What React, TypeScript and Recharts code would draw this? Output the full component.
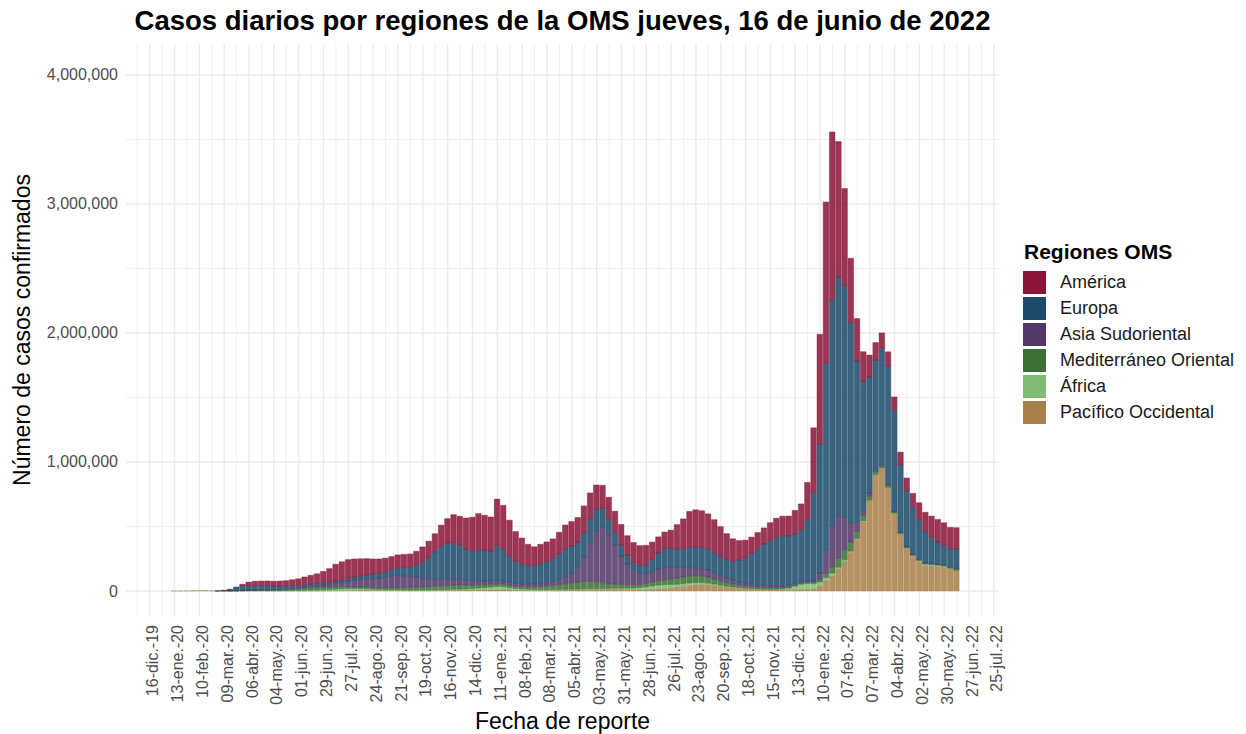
import { BarChart, Bar, XAxis, YAxis, CartesianGrid } from 'recharts';

// eje x en días desde el 16-dic-19; cada barra es una semana (vie-jue) desde el 03-ene-20
const ticksEje = [
  '16-dic.-19', '13-ene.-20', '10-feb.-20', '09-mar.-20', '06-abr.-20', '04-may.-20', '01-jun.-20',
  '29-jun.-20', '27-jul.-20', '24-ago.-20', '21-sep.-20', '19-oct.-20', '16-nov.-20', '14-dic.-20',
  '11-ene.-21', '08-feb.-21', '08-mar.-21', '05-abr.-21', '03-may.-21', '31-may.-21', '28-jun.-21',
  '26-jul.-21', '23-ago.-21', '20-sep.-21', '18-oct.-21', '15-nov.-21', '13-dic.-21', '10-ene.-22',
  '07-feb.-22', '07-mar.-22', '04-abr.-22', '02-may.-22', '30-may.-22', '27-jun.-22', '25-jul.-22',
];

const pacifico = [
  0, 50, 100, 500, 2000, 3200, 4500, 1200, 500, 400,
  300, 500, 1000, 1500, 2000, 2200, 1500, 1000, 800, 800,
  900, 1000, 1000, 1000, 1200, 1500, 1800, 2500, 3500, 4500,
  5500, 7000, 7000, 6000, 5500, 5000, 5000, 4500, 4000, 3500,
  3500, 3500, 3500, 4000, 5000, 6000, 7000, 7000, 7500, 8000,
  9000, 9000, 10000, 11000, 11000, 9000, 7000, 6000, 5000, 5000,
  5000, 5500, 6000, 6500, 7000, 7500, 9000, 10000, 11000, 12000,
  14000, 15000, 16000, 15000, 13000, 11000, 10000, 11000, 13000, 16000,
  20000, 25000, 30000, 37000, 43000, 48000, 50000, 48000, 42000, 36000,
  30000, 25000, 20000, 16000, 14000, 12000, 11000, 10000, 10000, 11000,
  11000, 12000, 12000, 13000, 18000, 40000, 80000, 120000, 170000, 230000,
  300000, 400000, 540000, 700000, 900000, 950000, 800000, 600000, 440000, 330000,
  270000, 230000, 200000, 195000, 190000, 185000, 170000, 155000,
];
const africa = [
  0, 0, 0, 0, 0, 0, 0, 0, 0, 10,
  100, 300, 600, 900, 1000, 1200, 1500, 2000, 2500, 3000,
  3500, 4000, 5000, 6000, 7000, 8500, 10000, 12000, 14000, 15000,
  14000, 12000, 10000, 8000, 7000, 6000, 5000, 4500, 4000, 4000,
  4500, 4500, 5000, 5000, 5500, 6000, 7000, 7500, 8500, 11000,
  14000, 17000, 20000, 24000, 22000, 17000, 13000, 10000, 8000, 7000,
  6500, 6000, 6000, 6000, 6000, 6000, 6000, 6500, 6500, 6000,
  5500, 5500, 6000, 7000, 9000, 12000, 16000, 21000, 26000, 30000,
  29000, 25000, 22000, 20000, 19000, 17000, 15000, 13000, 11000, 9000,
  7000, 6000, 5000, 4500, 4000, 3500, 3000, 3000, 3500, 5000,
  12000, 25000, 40000, 45000, 38000, 30000, 24000, 18000, 14000, 12000,
  9000, 7000, 5000, 4000, 4000, 3500, 3500, 3500, 4000, 4500,
  5500, 7000, 9000, 10000, 10000, 8000, 6000, 5000,
];
const mediterraneo = [
  0, 0, 0, 0, 0, 0, 0, 0, 100, 1200,
  1500, 2000, 3000, 3500, 4000, 4500, 5000, 6000, 7500, 9000,
  11000, 13000, 16000, 19000, 20000, 20000, 19000, 18000, 17000, 15000,
  13000, 12000, 12000, 12500, 13000, 14000, 15000, 16000, 18000, 20000,
  22000, 24000, 26000, 28000, 30000, 31000, 32000, 31000, 30000, 27000,
  25000, 23000, 22000, 21000, 20000, 19000, 18000, 18000, 19000, 21000,
  24000, 28000, 32000, 38000, 44000, 50000, 55000, 58000, 58000, 54000,
  45000, 36000, 32000, 29000, 27000, 26000, 26000, 27000, 30000, 34000,
  38000, 42000, 48000, 52000, 55000, 55000, 52000, 47000, 40000, 34000,
  28000, 24000, 20000, 17000, 15000, 14000, 13000, 12000, 12000, 11000,
  11000, 11000, 11000, 12000, 14000, 20000, 32000, 50000, 70000, 78000,
  70000, 55000, 40000, 30000, 22000, 17000, 13000, 10000, 8000, 6500,
  5500, 5000, 4500, 4500, 5000, 6000, 7000, 8000,
];
const asia = [
  0, 0, 0, 0, 0, 0, 0, 0, 0, 0,
  50, 100, 300, 600, 900, 1300, 1800, 2500, 3500, 4500,
  6000, 7500, 9000, 11000, 13000, 16000, 20000, 26000, 32000, 42000,
  52000, 60000, 66000, 70000, 75000, 82000, 92000, 97000, 93000, 85000,
  78000, 70000, 62000, 52000, 50000, 48000, 46000, 44000, 40000, 36000,
  32000, 28000, 27000, 27000, 26000, 24000, 23000, 22000, 20000, 20000,
  22000, 26000, 30000, 40000, 55000, 75000, 120000, 190000, 300000, 390000,
  430000, 380000, 300000, 220000, 160000, 110000, 85000, 75000, 80000, 90000,
  95000, 90000, 85000, 75000, 65000, 60000, 55000, 55000, 45000, 40000,
  35000, 30000, 26000, 22000, 20000, 19000, 17000, 15000, 14000, 13000,
  12000, 12000, 12000, 12000, 15000, 50000, 180000, 320000, 330000, 250000,
  150000, 70000, 40000, 25000, 15000, 10000, 8000, 6000, 5000, 5000,
  6000, 7000, 7000, 6000, 5000, 5000, 6000, 8000,
];
const europa = [
  0, 0, 0, 0, 0, 0, 0, 0, 300, 3000,
  10000, 22000, 33000, 36000, 35000, 33000, 31000, 28000, 25000, 23000,
  21000, 19000, 18000, 17000, 17000, 18000, 18000, 19000, 20000, 22000,
  24000, 27000, 30000, 34000, 38000, 43000, 50000, 58000, 65000, 75000,
  95000, 125000, 165000, 215000, 260000, 280000, 285000, 265000, 240000, 230000,
  240000, 240000, 230000, 270000, 245000, 200000, 170000, 155000, 145000, 145000,
  155000, 165000, 180000, 200000, 215000, 210000, 190000, 190000, 180000, 170000,
  150000, 120000, 100000, 85000, 70000, 62000, 60000, 70000, 95000, 125000,
  150000, 150000, 140000, 145000, 155000, 160000, 165000, 165000, 160000, 150000,
  145000, 145000, 170000, 200000, 240000, 280000, 320000, 350000, 375000, 390000,
  380000, 385000, 400000, 470000, 680000, 1000000, 1450000, 1750000, 1850000, 1800000,
  1550000, 1250000, 1000000, 900000, 850000, 900000, 920000, 780000, 520000, 430000,
  360000, 300000, 240000, 200000, 170000, 150000, 140000, 150000,
];
const america = [
  0, 0, 0, 0, 0, 0, 0, 0, 0, 200,
  1500, 6000, 15000, 27000, 33000, 35000, 37000, 37000, 38000, 40000,
  45000, 50000, 60000, 68000, 75000, 88000, 105000, 130000, 140000, 145000,
  140000, 132000, 126000, 118000, 110000, 105000, 100000, 100000, 100000, 100000,
  105000, 115000, 125000, 140000, 160000, 190000, 215000, 225000, 240000, 260000,
  280000, 270000, 265000, 360000, 340000, 280000, 230000, 200000, 165000, 145000,
  150000, 150000, 150000, 165000, 185000, 190000, 190000, 205000, 205000, 190000,
  175000, 170000, 165000, 160000, 150000, 155000, 155000, 150000, 135000, 125000,
  125000, 140000, 190000, 230000, 280000, 290000, 285000, 270000, 255000, 230000,
  200000, 175000, 150000, 135000, 125000, 125000, 125000, 140000, 150000, 150000,
  155000, 180000, 200000, 290000, 500000, 850000, 1250000, 1300000, 1050000, 750000,
  500000, 330000, 230000, 170000, 135000, 120000, 110000, 105000, 100000, 100000,
  110000, 135000, 150000, 165000, 175000, 175000, 165000, 165000,
];

const regiones = [
  { key: 'pacifico', nombre: 'Pacífico Occidental', color: '#a97f4b', datos: pacifico },
  { key: 'africa', nombre: 'África', color: '#7fbb74', datos: africa },
  { key: 'mediterraneo', nombre: 'Mediterráneo Oriental', color: '#3d7034', datos: mediterraneo },
  { key: 'asia', nombre: 'Asia Sudoriental', color: '#533769', datos: asia },
  { key: 'europa', nombre: 'Europa', color: '#1b4a6b', datos: europa },
  { key: 'america', nombre: 'América', color: '#8a1538', datos: america },
];

const data = pacifico.map((_, k) => {
  const row: Record<string, number> = { x: 21 + 7 * k };
  regiones.forEach(r => { row[r.key] = r.datos[k]; });
  return row;
});

const X_MIN = -26.75, X_MAX = 957.75;
const Y_MIN = -201500, Y_MAX = 4240000;
const tickDias = ticksEje.map((_, i) => i * 28);
const FONT = '"Liberation Sans", Arial, sans-serif';

const xPix = (d: number, o: any) => o.left + ((d - X_MIN) / (X_MAX - X_MIN)) * o.width;
const yPix = (v: number, o: any) => o.top + ((Y_MAX - v) / (Y_MAX - Y_MIN)) * o.height;

const gridMayorX = (p: any) => tickDias.map(d => xPix(d, p.offset));
const gridMenorX = (p: any) => tickDias.map(d => xPix(d - 14, p.offset));
const gridMayorY = (p: any) => [0, 1e6, 2e6, 3e6, 4e6].map(v => yPix(v, p.offset));
const gridMenorY = (p: any) => [5e5, 1.5e6, 2.5e6, 3.5e6].map(v => yPix(v, p.offset));

const TickX = ({ x, payload }: any) => (
  <text transform={`translate(${x + 3},617) rotate(-90)`} textAnchor="end" dominantBaseline="central"
    fontSize={16} fill="#4d4d4d" fontFamily={FONT}>
    {ticksEje[Math.round(payload.value / 28)]}
  </text>
);

const TickY = ({ y, payload }: any) => (
  <text x={110} y={y} textAnchor="end" dominantBaseline="central" fontSize={16} fill="#4d4d4d" fontFamily={FONT}>
    {payload.value.toLocaleString('en-US')}
  </text>
);

export default function App() {
  return (
    <div style={{ position: 'relative', width: 1238, height: 726, fontFamily: FONT }}>
      <BarChart width={1238} height={726} data={data} barSize={6.4} barGap={0}
        margin={{ top: 36, right: 247, bottom: 0, left: 0 }}>
        <CartesianGrid horizontal={false} stroke="#ebebeb" strokeWidth={0.8} verticalCoordinatesGenerator={gridMenorX} />
        <CartesianGrid vertical={false} stroke="#ebebeb" strokeWidth={0.8} horizontalCoordinatesGenerator={gridMenorY} />
        <CartesianGrid stroke="#ebebeb" strokeWidth={1.4} verticalCoordinatesGenerator={gridMayorX} horizontalCoordinatesGenerator={gridMayorY} />
        <XAxis type="number" dataKey="x" domain={[X_MIN, X_MAX]} allowDataOverflow ticks={tickDias} interval={0}
          tick={<TickX />} axisLine={false} tickLine={false} height={117} tickSize={0} />
        <YAxis type="number" domain={[Y_MIN, Y_MAX]} allowDataOverflow ticks={[0, 1e6, 2e6, 3e6, 4e6]}
          tick={<TickY />} axisLine={false} tickLine={false} width={118} tickSize={0} />
        {regiones.map(r => (
          <Bar key={r.key} dataKey={r.key} stackId="a" fill={r.color} fillOpacity={0.86}
            stroke={r.color} strokeWidth={0.4} isAnimationActive={false} />
        ))}
      </BarChart>

      <div style={{ position: 'absolute', left: 0, width: 1109, top: -2, textAlign: 'center', fontSize: 27.5,
        fontWeight: 'bold', lineHeight: '30px', color: '#000' }}>
        Casos diarios por regiones de la OMS jueves, 16 de junio de 2022
      </div>
      <div style={{ position: 'absolute', left: 0, width: 1109, top: 700, textAlign: 'center', fontSize: 23,
        lineHeight: '26px', color: '#000' }}>
        Fecha de reporte
      </div>
      <div style={{ position: 'absolute', left: 14 - 200, width: 400, top: 322 - 13, textAlign: 'center', fontSize: 23,
        lineHeight: '26px', color: '#000', transform: 'rotate(-90deg)' }}>
        Número de casos confirmados
      </div>

      <div style={{ position: 'absolute', left: 1016, top: 232, fontSize: 21, fontWeight: 'bold', lineHeight: '24px', color: '#000' }}>
        Regiones OMS
      </div>
      {[...regiones].reverse().map((r, i) => (
        <div key={r.key} style={{ position: 'absolute', left: 1015, top: 263 + i * 26, height: 23, display: 'flex', alignItems: 'center' }}>
          <div style={{ width: 23, height: 23, background: r.color }} />
          <span style={{ marginLeft: 14, fontSize: 18, color: '#1a1a1a', whiteSpace: 'nowrap' }}>{r.nombre}</span>
        </div>
      ))}
    </div>
  );
}
